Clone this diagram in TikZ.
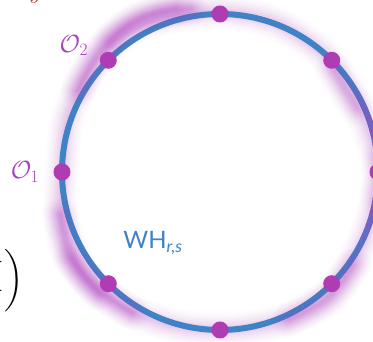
\documentclass[tikz,border=0pt]{standalone}
\usepackage{amsmath,amssymb}
\usepackage{fontspec}
\setsansfont{Lato}
\usetikzlibrary{positioning,calc}
\definecolor{ringblue}{HTML}{3F82C6}
\definecolor{dotpurple}{HTML}{B03CB4}
\definecolor{glow}{HTML}{B23DC2}
\definecolor{labelpurple}{HTML}{A445BC}
\definecolor{red}{HTML}{B03A2E}
\tikzset{
  dot/.style={circle,fill=dotpurple,inner sep=0pt,minimum size=17pt},
  olabel/.style={text=labelpurple,inner sep=1pt,font=\fontsize{24}{28}\selectfont},
  smear/.style={draw=glow,line cap=round,line join=round},
}
% blurred purple band, drawn as stacked translucent strokes
\newcommand\smearpath[2][1]{%
  \foreach \w/\o in {34/0.025,29/0.03,24/0.035,20/0.04,16/0.05,12/0.06,8/0.07,4/0.08} {
    \pgfmathsetmacro\op{#1*\o}
    \draw[smear,line width=\w pt,opacity=\op] #2;}}

\begin{document}
\begin{tikzpicture}[x=1pt,y=1pt]
\useasboundingbox (0,0) rectangle (373,342);
\clip (0,0) rectangle (373,342);
\fill[white] (0,0) rectangle (373,342);
\coordinate (ring) at (220,170);
\begin{scope}[shift={(ring)}]
% faint purple cloud round the ring
\smearpath[0.8]{plot[smooth cycle] coordinates {(0:160) (20:154) (35:153) (50:157) (70:159) (90:160) (110:164) (125:168) (140:166) (160:162) (180:158) (195:164) (215:170) (235:166) (255:160) (275:158) (295:162) (315:164) (335:159) (350:158)}}
\end{scope}
% NODE: ring of the WH construction
\draw[ringblue,line width=6pt] (ring) circle (158);
\begin{scope}[shift={(ring)}]
% tint of the ring on its right side
\foreach \a in {-40,-35,...,35} {
  \pgfmathsetmacro\o{0.65*cos(2*(\a+2.5))^2}
  \draw[glow,line width=6pt,opacity=\o] (\a:158) arc (\a:\a+5.5:158);
}
% denser patches of the cloud
\smearpath[1.1]{plot[smooth] coordinates {(100:166) (112:171) (125:173) (138:169) (150:164)}}
\smearpath[0.8]{plot[smooth] coordinates {(105:170) (118:174) (130:171)}}
\smearpath[1.1]{plot[smooth] coordinates {(195:166) (208:172) (222:171) (238:166)}}
\smearpath[0.8]{plot[smooth] coordinates {(210:173) (225:172)}}
\smearpath[0.9]{plot[smooth] coordinates {(295:163) (310:167) (325:163)}}
\smearpath[0.7]{plot[smooth] coordinates {(-10:160) (5:159)}}
\smearpath[0.7]{plot[smooth] coordinates {(25:150) (33:149) (42:152)}}
\end{scope}
% NODES: the eight points on the ring
\foreach \k in {0,...,7}
  \node[dot] (d\k) at ($(ring)+(\k*45:158)$) {};
% labels
\node[olabel,above left=-3pt and 13pt of d3] (o2) {$\mathcal{O}_2$};
\node[olabel,left=13pt of d4] (o1) {$\mathcal{O}_1$};
\node[text=ringblue,font=\sffamily\fontsize{24}{28}\selectfont] (wh) at (153,99) {WH$_{\textit{r,s}}$};
% cut-off pieces of the neighbouring formula
\node[font=\fontsize{26}{30}\selectfont,inner sep=0pt] (paren) at (14,61) {$\bigg)$};
\node[font=\fontsize{44}{50}\selectfont,inner sep=0pt,anchor=east] (letter) at (4,66) {I};
\node[text=red,font=\fontsize{24}{28}\selectfont,inner sep=0pt,anchor=base] (yglyph) at (36,343) {$y$};
\end{tikzpicture}
\end{document}
